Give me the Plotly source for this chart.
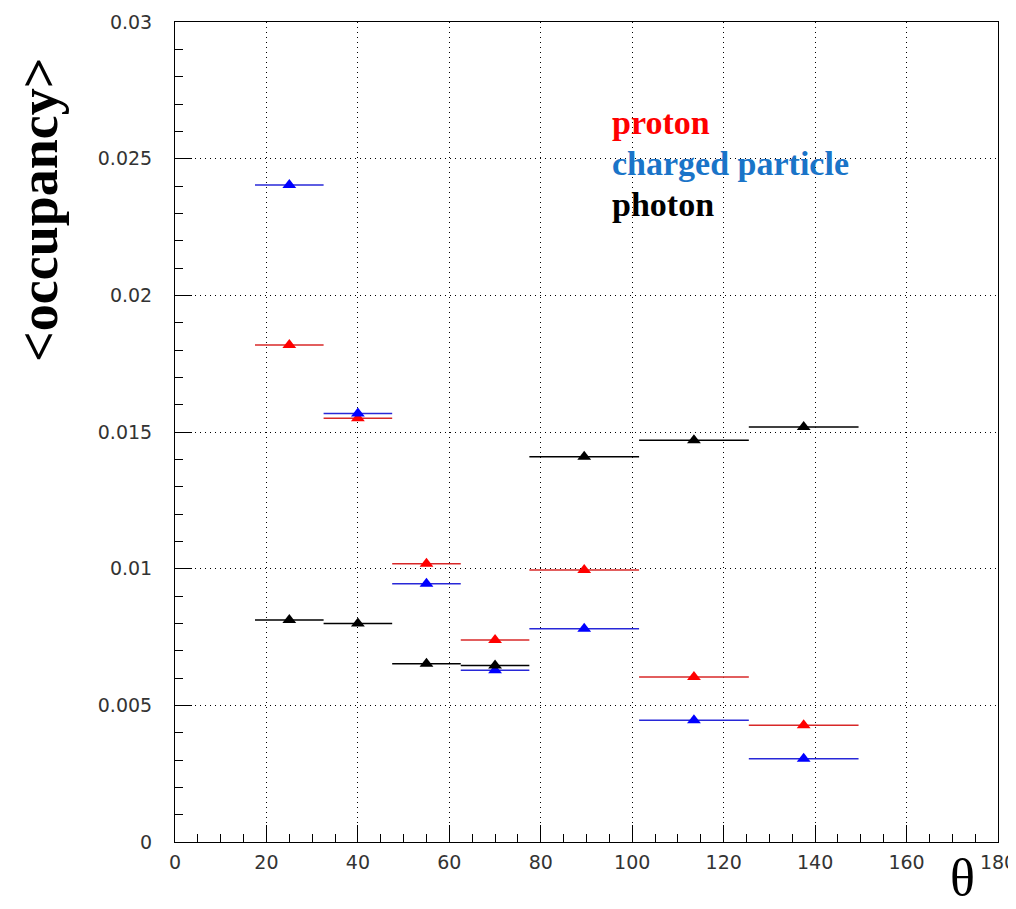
import plotly.graph_objects as go

theta = [25, 40, 55, 70, 89.5, 113.5, 137.5]
theta_halfwidth = [7.5, 7.5, 7.5, 7.5, 12, 12, 12]
proton = [0.01818, 0.01550, 0.01018, 0.00739, 0.00995, 0.00604, 0.00427]
charged = [0.02404, 0.01568, 0.00945, 0.00628, 0.00780, 0.00445, 0.00305]
photon = [0.00812, 0.00799, 0.00652, 0.00646, 0.01409, 0.01470, 0.01518]

series = [
    ("proton", proton, "#ff0000", "#d82828"),
    ("charged particle", charged, "#0000ff", "#2828d8"),
    ("photon", photon, "#000000", "#000000"),
]

fig = go.Figure()
for name, vals, mcol, lcol in series:
    fig.add_trace(go.Scatter(
        x=theta, y=vals, mode="markers", name=name,
        marker=dict(symbol="triangle-up", size=12, color=mcol),
        error_x=dict(type="data", array=theta_halfwidth, symmetric=True,
                     width=0, thickness=1.5, color=lcol),
        showlegend=False,
    ))

axis_common = dict(
    showline=True, linecolor="black", linewidth=1, mirror=True,
    ticks="inside", ticklen=17, tickcolor="black", tickwidth=1,
    showgrid=True, gridcolor="black", griddash="1px,4px", gridwidth=1,
    zeroline=False, automargin=False,
    tickfont=dict(family="DejaVu Sans", size=19, color="#333"),
)

fig.update_xaxes(range=[0, 180], dtick=20, tick0=0,
                 minor=dict(ticks="inside", ticklen=8, dtick=5, tickcolor="black", showgrid=False),
                 ticklabelstandoff=3,
                 **axis_common)
fig.update_yaxes(range=[0, 0.03],
                 tickvals=[0, 0.005, 0.01, 0.015, 0.02, 0.025, 0.03],
                 ticktext=["0", "0.005", "0.01", "0.015", "0.02", "0.025", "0.03"],
                 minor=dict(ticks="inside", ticklen=8, dtick=0.001, tickcolor="black", showgrid=False),
                 ticklabelstandoff=18,
                 **axis_common)

fig.add_annotation(text="<b>&lt;occupancy&gt;</b>", textangle=-90, xref="paper", yref="paper",
                   x=-0.165, y=0.771, xanchor="center", yanchor="middle", showarrow=False,
                   font=dict(family="Liberation Serif, Times New Roman", size=54, color="black"))
fig.add_annotation(text="θ", xref="paper", yref="paper", x=0.957, y=-0.043,
                   xanchor="center", yanchor="middle", showarrow=False, borderpad=0,
                   font=dict(family="Liberation Serif, Times New Roman", size=52, color="black"))

legend_items = [("proton", "#ff0000", 0.878), ("charged particle", "#1a74c8", 0.828), ("photon", "#000000", 0.777)]
for txt, col, yy in legend_items:
    fig.add_annotation(text=f"<b>{txt}</b>", xref="paper", yref="paper", x=0.528, y=yy,
                       xanchor="left", yanchor="middle", showarrow=False,
                       font=dict(family="Liberation Serif, Times New Roman", size=34, color=col))

fig.update_layout(
    width=1016, height=909,
    margin=dict(l=167, r=26, t=14, b=75),
    plot_bgcolor="white", paper_bgcolor="white",
)

fig.write_html("out.html")
